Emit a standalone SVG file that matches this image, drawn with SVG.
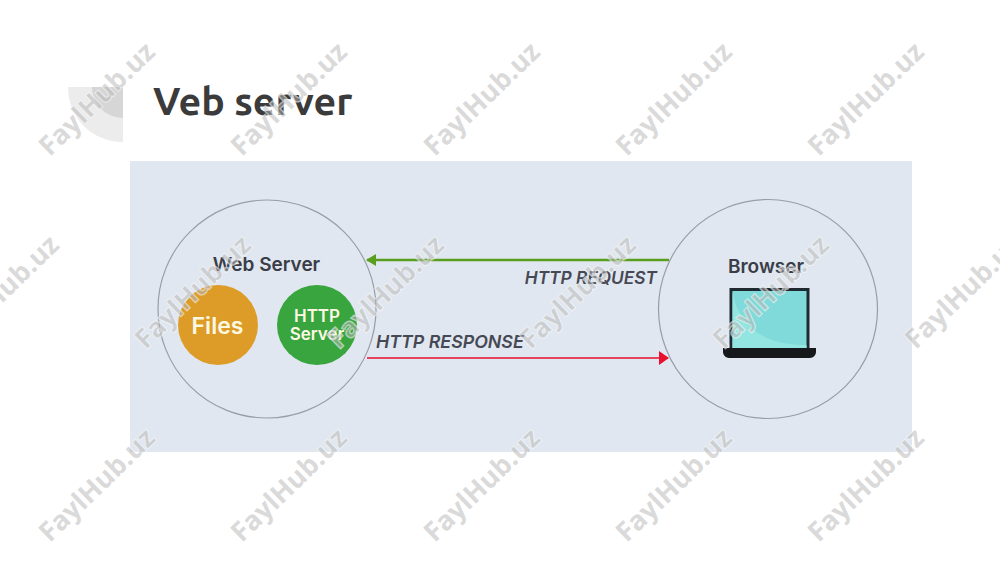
<svg xmlns="http://www.w3.org/2000/svg" width="1000" height="563" viewBox="0 0 1000 563">
<style>
.wm{font-family:"Open Sans","Liberation Sans",sans-serif;font-weight:700;font-size:27px;fill:#b5b5b5;fill-opacity:.5;stroke:#fff;stroke-width:1.5;stroke-opacity:.6;paint-order:stroke;text-anchor:middle;dominant-baseline:central}
.ring{fill:none;stroke:#9a9ca6;stroke-width:1.2}
.lbl{font-family:Inter,"Open Sans","Liberation Sans",sans-serif;font-weight:600;fill:#3a3d47;text-anchor:middle}
.cap{font-family:Inter,"Liberation Sans",sans-serif;font-weight:600;font-style:italic;fill:#464953}
.in{font-family:Inter,"Open Sans","Liberation Sans",sans-serif;font-weight:600;fill:#fdf8e2;text-anchor:middle}
</style>
<defs>
<marker id="ag" markerWidth="10" markerHeight="12" refX="9" refY="6" orient="auto" markerUnits="userSpaceOnUse"><path d="M0 0L10 6L0 12Z" fill="#5a9e1e"/></marker>
<marker id="ar" markerWidth="10" markerHeight="14" refX="9" refY="7" orient="auto" markerUnits="userSpaceOnUse"><path d="M0 0L10 7L0 14Z" fill="#e8112d"/></marker>
<g id="w"><text class="wm" x="0" y="0">FaylHub.uz</text></g>
</defs>
<rect width="1000" height="563" fill="#fff"/>
<g id="corner">
<path d="M68 87H123V142C92 142 68 118 68 87Z" fill="#ececec"/>
<path d="M92 87H123V118C106 118 92 104 92 87Z" fill="#d6d6d6"/>
</g>
<text x="153" y="115" font-family="Ubuntu,'Open Sans','DejaVu Sans',sans-serif" font-weight="700" font-size="39.400" fill="#3b3b3b">Veb server</text>
<rect id="panel" x="130" y="161" width="782" height="291" fill="#e0e7f0"/>
<g id="connectors">
<line x1="669" y1="260" x2="367" y2="260" stroke="#5a9e1e" stroke-width="2.4" marker-end="url(#ag)"/>
<line x1="367" y1="358" x2="668" y2="358" stroke="#e8112d" stroke-width="1.6" marker-end="url(#ar)"/>
</g>
<g id="web-server">
<circle class="ring" cx="267" cy="309" r="109"/>
<text class="lbl" x="266.500" y="271" font-size="19">Web Server</text>
<g id="files"><circle cx="218" cy="325" r="40" fill="#dd9c28"/><text class="in" x="217.500" y="334" font-size="23">Files</text></g>
<g id="http-server"><circle cx="317" cy="325" r="40" fill="#38a53f"/><text class="in" x="317" y="322" font-size="17">HTTP</text><text class="in" x="317" y="340" font-size="17">Server</text></g>
</g>
<g id="browser">
<circle class="ring" cx="768" cy="309" r="109.500"/>
<text class="lbl" x="766" y="273" font-size="19">Browser</text>
<g id="laptop">
<rect x="731" y="289.500" width="77" height="67" fill="#7fdad9" stroke="#1f2a30" stroke-width="3"/>
<path d="M732.500 291C737 322 760 346 806.500 345V355H732.500Z" fill="#93e5e2"/>
<path d="M723 348H816V352C816 355 813 358 810 358H729C726 358 723 355 723 352Z" fill="#17181c"/>
</g>
</g>
<g id="labels">
<text class="cap" x="657" y="284" text-anchor="end" font-size="17.300">HTTP REQUEST</text>
<text class="cap" x="376" y="348" font-size="17.800">HTTP RESPONSE</text>
</g>
<g id="watermarks">
<use href="#w" transform="translate(96 98) rotate(-44)"/>
<use href="#w" transform="translate(288 98) rotate(-44)"/>
<use href="#w" transform="translate(481 98) rotate(-44)"/>
<use href="#w" transform="translate(673 98) rotate(-44)"/>
<use href="#w" transform="translate(865 98) rotate(-44)"/>
<use href="#w" transform="translate(0 291) rotate(-44)"/>
<use href="#w" transform="translate(192 291) rotate(-44)"/>
<use href="#w" transform="translate(385 291) rotate(-44)"/>
<use href="#w" transform="translate(577 291) rotate(-44)"/>
<use href="#w" transform="translate(770 291) rotate(-44)"/>
<use href="#w" transform="translate(962 291) rotate(-44)"/>
<use href="#w" transform="translate(96 484) rotate(-44)"/>
<use href="#w" transform="translate(288 484) rotate(-44)"/>
<use href="#w" transform="translate(481 484) rotate(-44)"/>
<use href="#w" transform="translate(673 484) rotate(-44)"/>
<use href="#w" transform="translate(865 484) rotate(-44)"/>
</g>
</svg>
